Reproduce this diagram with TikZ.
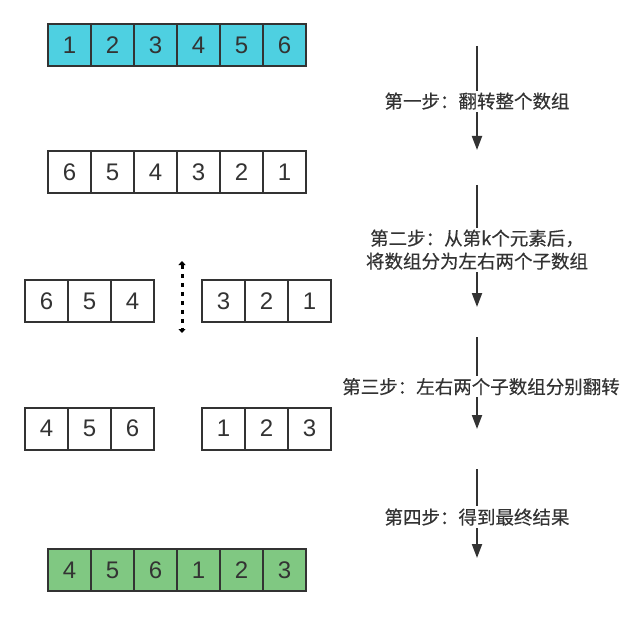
\documentclass[tikz,border=0pt]{standalone}
\usepackage{fontspec}
\setmainfont{Liberation Sans}
\newfontfamily\cjk[FakeBold=0.3]{Noto Sans CJK SC}
\usepackage{tikz}
\usetikzlibrary{positioning,arrows.meta}
\definecolor{arCyan}{RGB}{78,208,225}
\definecolor{arGreen}{RGB}{128,200,130}
\definecolor{arGray}{RGB}{51,51,51}
\tikzset{
    cell/.style={rectangle, draw=arGray, line width=2pt, fill=white, text=arGray,
                 minimum width=43pt, minimum height=42pt, inner sep=0pt, outer sep=0pt,
                 font=\fontsize{24}{24}\selectfont},
    first/.style={cell, fill=arCyan},
    result/.style={cell, fill=arGreen},
    flow/.style={-{Triangle[length=14pt, width=10pt]}, line width=2pt, color=arGray},
    splitmark/.style={{Triangle[length=4pt, width=7pt]}-{Triangle[length=4pt, width=7pt]},
                      line width=3pt, dash pattern=on 4pt off 5pt, color=black},
    stepnote/.style={font=\cjk\fontsize{18.5}{23}\selectfont, text=arGray, fill=white,
                     align=center, inner sep=2pt}
}

\begin{document}
\begin{tikzpicture}[x=1pt, y=-1pt]
  \useasboundingbox (0,0) rectangle (636,617);

  % Original array
  \node[first] (a1) at (69.5,45.5) {1};
  \node[first] (a2) [right=0pt of a1] {2};
  \node[first] (a3) [right=0pt of a2] {3};
  \node[first] (a4) [right=0pt of a3] {4};
  \node[first] (a5) [right=0pt of a4] {5};
  \node[first] (a6) [right=0pt of a5] {6};

  % Whole array reversed
  \node[cell] (b1) at (69.5,172) {6};
  \node[cell] (b2) [right=0pt of b1] {5};
  \node[cell] (b3) [right=0pt of b2] {4};
  \node[cell] (b4) [right=0pt of b3] {3};
  \node[cell] (b5) [right=0pt of b4] {2};
  \node[cell] (b6) [right=0pt of b5] {1};

  % Split after k
  \node[cell] (cL1) at (46.5,301) {6};
  \node[cell] (cL2) [right=0pt of cL1] {5};
  \node[cell] (cL3) [right=0pt of cL2] {4};
  \node[cell] (cR1) at (223.5,301) {3};
  \node[cell] (cR2) [right=0pt of cR1] {2};
  \node[cell] (cR3) [right=0pt of cR2] {1};
  \coordinate (cut1) at (182,261);
  \coordinate (cut2) at (182,333);
  \draw[splitmark] (cut1) -- (cut2);

  % Both halves reversed
  \node[cell] (dL1) at (46.5,428.5) {4};
  \node[cell] (dL2) [right=0pt of dL1] {5};
  \node[cell] (dL3) [right=0pt of dL2] {6};
  \node[cell] (dR1) at (223.5,428.5) {1};
  \node[cell] (dR2) [right=0pt of dR1] {2};
  \node[cell] (dR3) [right=0pt of dR2] {3};

  % Result
  \node[result] (e1) at (69.5,570) {4};
  \node[result] (e2) [right=0pt of e1] {5};
  \node[result] (e3) [right=0pt of e2] {6};
  \node[result] (e4) [right=0pt of e3] {1};
  \node[result] (e5) [right=0pt of e4] {2};
  \node[result] (e6) [right=0pt of e5] {3};

  % Steps
  \coordinate (s1a) at (477,46);
  \coordinate (s1b) at (477,150);
  \coordinate (s2a) at (477,185);
  \coordinate (s2b) at (477,307);
  \coordinate (s3a) at (477,337);
  \coordinate (s3b) at (477,429);
  \coordinate (s4a) at (477,469);
  \coordinate (s4b) at (477,558);
  \draw[flow] (s1a) -- node[stepnote, pos=0.53] (n1) {第一步：翻转整个数组} (s1b);
  \draw[flow] (s2a) -- node[stepnote, pos=0.53] (n2) {第二步：从第k个元素后，\\将数组分为左右两个子数组} (s2b);
  \draw[flow] (s3a) -- node[stepnote, pos=0.54, xshift=4pt] (n3) {第三步：左右两个子数组分别翻转} (s3b);
  \draw[flow] (s4a) -- node[stepnote, pos=0.54] (n4) {第四步：得到最终结果} (s4b);
\end{tikzpicture}
\end{document}
